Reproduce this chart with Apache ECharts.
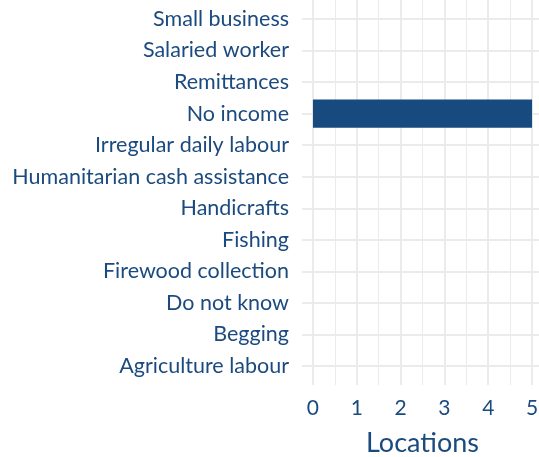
<!DOCTYPE html>
<html>
<head>
<meta charset="utf-8">
<script src="https://cdn.jsdelivr.net/npm/echarts@6/dist/echarts.min.js"></script>
<style>
  html, body { margin: 0; padding: 0; background: #fff; }
  #main { width: 539px; height: 457px; }
</style>
</head>
<body>
<div id="main"></div>
<script>
const categories = ['Agriculture labour', 'Begging', 'Do not know', 'Firewood collection', 'Fishing',
  'Handicrafts', 'Humanitarian cash assistance', 'Irregular daily labour', 'No income',
  'Remittances', 'Salaried worker', 'Small business']
const locations = [0, 0, 0, 0, 0, 0, 0, 0, 5, 0, 0, 0]
const xTicks = [0, 1, 2, 3, 4, 5]
const xMinor = [0.5, 1.5, 2.5, 3.5, 4.5]

const textColor = '#1b4a7f'
const gridColor = '#ebebeb'
const font = 'Lato'

let myChart = echarts.init(document.getElementById('main'))

// row positions for the horizontal grid lines
let rowIdx = categories.map((c, i) => i)

let option = {
    backgroundColor: '#ffffff',
    animation: false,
    grid: [
        // panel with grid lines (ggplot-like expansion around the data)
        { left: 302, width: 241, top: 0, height: 385, outerBoundsMode: 'none' },
        // bars and category labels
        { left: 302, width: 241, top: 3.2, height: 378.6, outerBoundsMode: 'none' },
    ],
    xAxis: [
        {
            gridIndex: 0,
            type: 'value',
            min: -0.25,
            max: 5.25,
            axisLine: { show: false },
            axisTick: { show: false, customValues: xTicks },
            axisLabel: {
                customValues: xTicks,
                color: textColor,
                fontFamily: font,
                fontSize: 21,
                margin: 13,
            },
            splitLine: { show: true, lineStyle: { color: gridColor, width: 2 } },
            name: 'Locations',
            nameLocation: 'middle',
            nameGap: 45,
            nameTextStyle: { color: textColor, fontFamily: font, fontSize: 27 },
        },
        {
            gridIndex: 0,
            type: 'value',
            min: -0.25,
            max: 5.25,
            axisLine: { show: false },
            axisTick: { show: false, customValues: xMinor },
            axisLabel: { show: false, customValues: xMinor },
            splitLine: { show: true, lineStyle: { color: gridColor, width: 1 } },
        },
        {
            gridIndex: 1,
            type: 'value',
            min: -0.25,
            max: 5.25,
            show: false,
        },
    ],
    yAxis: [
        {
            gridIndex: 0,
            type: 'value',
            min: -0.6,
            max: 11.6,
            axisLine: { show: false },
            axisTick: { show: false, customValues: rowIdx },
            axisLabel: { show: false, customValues: rowIdx },
            splitLine: { show: true, lineStyle: { color: gridColor, width: 2 } },
        },
        {
            gridIndex: 1,
            type: 'category',
            data: categories,
            axisLine: { show: false },
            axisTick: { show: false },
            splitLine: { show: false },
            axisLabel: {
                interval: 0,
                color: textColor,
                fontFamily: font,
                fontSize: 21.5,
                margin: 13,
                padding: [5, 0, 0, 0],
            },
        },
    ],
    series: [
        {
            type: 'bar',
            xAxisIndex: 2,
            yAxisIndex: 1,
            data: locations,
            barWidth: '90%',
            itemStyle: { color: '#174a7e' },
        },
    ],
}
myChart.setOption(option)
</script>
</body>
</html>
